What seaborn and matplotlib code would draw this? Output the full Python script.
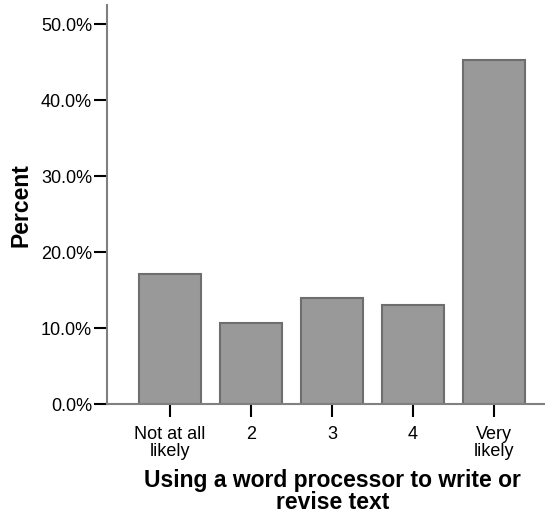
import matplotlib
matplotlib.use("Agg")
import matplotlib.pyplot as plt
import seaborn as sns
import pandas as pd
from matplotlib.ticker import FuncFormatter

# Данни, прочетени от графиката
categories = ["Not at all\nlikely", "2", "3", "4", "Very\nlikely"]
percents = [17.1, 10.6, 13.9, 13.1, 45.3]
y_ticks = [0, 10, 20, 30, 40, 50]

df = pd.DataFrame({"category": categories, "percent": percents})

sns.set_style("white")
plt.rcParams["font.family"] = ["Liberation Sans", "DejaVu Sans"]
plt.rcParams["text.color"] = "black"
plt.rcParams["axes.labelcolor"] = "black"
plt.rcParams["xtick.color"] = "black"
plt.rcParams["ytick.color"] = "black"

fig = plt.figure(figsize=(5.45, 5.16), dpi=100)
ax = fig.add_axes([0.196, 0.217, 0.804, 0.773])

sns.barplot(data=df, x="category", y="percent", color="#999999",
            edgecolor="#6e6e6e", linewidth=1.5, width=0.765,
            saturation=1, ax=ax)

ax.set_xlim(-0.78, 4.63)
ax.set_ylim(0, 52.5)
ax.set_yticks(y_ticks)
ax.yaxis.set_major_formatter(FuncFormatter(lambda v, p: f"{v:.1f}%"))

for s in ["top", "right"]:
    ax.spines[s].set_visible(False)
for s in ["left", "bottom"]:
    ax.spines[s].set_color("#808080")
    ax.spines[s].set_linewidth(1.5)

ax.tick_params(axis="both", direction="out", length=9.5, width=1.5,
               color="black", labelsize=13, pad=1,
               left=True, bottom=True)
ax.tick_params(axis="x", pad=6)
for lbl in ax.get_xticklabels():
    lbl.set_linespacing(1.05)

ax.set_ylabel("Percent", fontsize=16.5, fontweight="bold", labelpad=6)
ax.set_xlabel("Using a word processor to write or\nrevise text",
              fontsize=16.5, fontweight="bold", labelpad=6, linespacing=0.95)
ax.xaxis.label.set_x(0.516)

fig.savefig("out.png", dpi=100)
